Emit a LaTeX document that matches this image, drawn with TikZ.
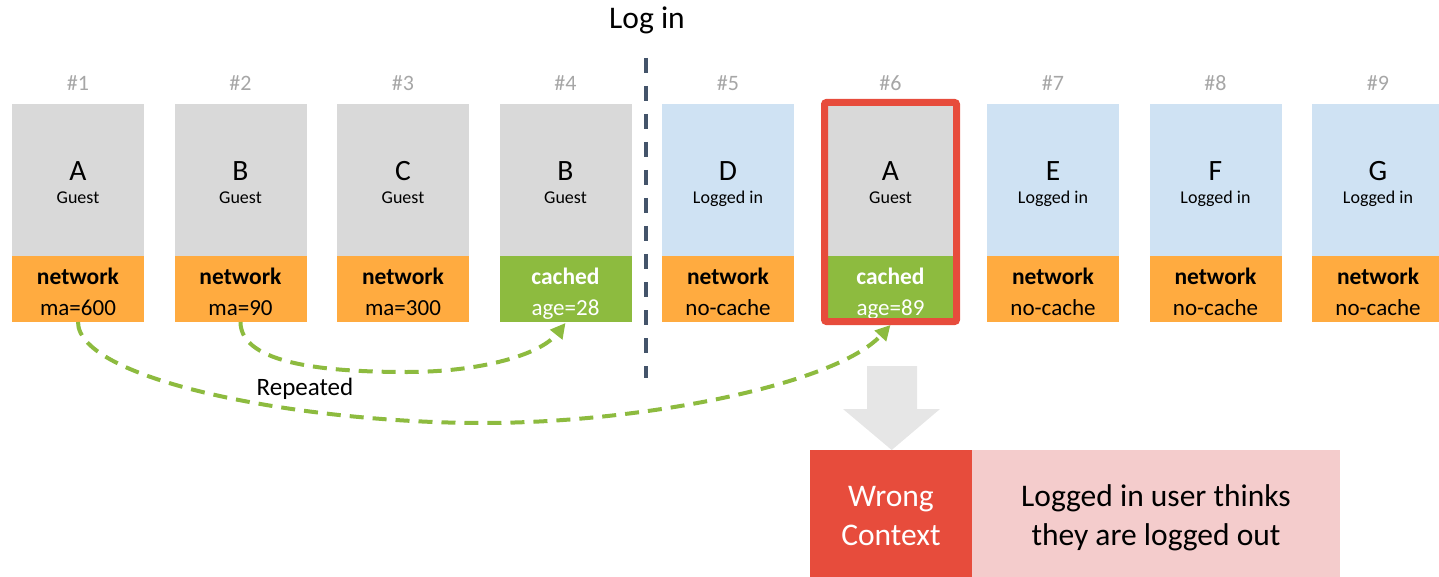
\documentclass[tikz,border=0pt]{standalone}
\usepackage{fontspec}
\setmainfont{Carlito}
\usetikzlibrary{arrows.meta}
\definecolor{cgray}{HTML}{D9D9D9}
\definecolor{cblue}{HTML}{CFE2F3}
\definecolor{corange}{HTML}{FFAB40}
\definecolor{cgreen}{HTML}{8DBB3F}
\definecolor{cred}{HTML}{E74C3C}
\definecolor{cpink}{HTML}{F4CCCC}
\definecolor{cnum}{HTML}{A6A6A6}
\definecolor{cline}{HTML}{44546A}
\definecolor{carrow}{HTML}{E6E6E6}
\tikzset{
  topbox/.style={minimum width=132pt, minimum height=152pt, inner sep=0pt, outer sep=0pt},
  botbox/.style={minimum width=132pt, minimum height=66pt, inner sep=0pt, outer sep=0pt},
  txt/.style={anchor=base, inner sep=0pt, outer sep=0pt},
  numlbl/.style={txt, text=cnum, font=\fontsize{22}{26}\selectfont},
  letter/.style={txt, font=\fontsize{29.5}{34}\selectfont},
  role/.style={txt, font=\fontsize{18}{21}\selectfont},
  stat/.style={txt, font=\bfseries\fontsize{23.5}{27}\selectfont},
  val/.style={txt, font=\fontsize{23}{27}\selectfont},
  big/.style={txt, font=\fontsize{31.5}{38}\selectfont},
  repeatarrow/.style={draw=cgreen, line width=4pt, dash pattern=on 14pt off 9pt,
     -{Triangle[length=15pt,width=15pt]}},
  divider/.style={draw=cline, line width=4pt, dash pattern=on 15pt off 13pt},
}
\begin{document}
\begin{tikzpicture}[x=1pt,y=-1pt]
\useasboundingbox (0,0) rectangle (1439,577);
\begin{scope}
\clip (0,0) rectangle (1439,577);
\foreach \i/\L/\R/\fc/\S/\V/\sc/\tc in {
 1/A/Guest/cgray/network/ma=600/corange/black,
 2/B/Guest/cgray/network/ma=90/corange/black,
 3/C/Guest/cgray/network/ma=300/corange/black,
 4/B/Guest/cgray/cached/age=28/cgreen/white,
 5/D/Logged in/cblue/network/no-cache/corange/black,
 6/A/Guest/cgray/cached/age=89/cgreen/white,
 7/E/Logged in/cblue/network/no-cache/corange/black,
 8/F/Logged in/cblue/network/no-cache/corange/black,
 9/G/Logged in/cblue/network/no-cache/corange/black}{
  \pgfmathsetmacro\cx{78+(\i-1)*162.5}
  \node[topbox, fill=\fc] (t\i) at (\cx,180) {};
  \node[botbox, fill=\sc] (b\i) at (\cx,289) {};
  \node[numlbl] (n\i) at (\cx,90.7) {\#\i};
  \node[letter] (l\i) at (\cx,180.7) {\L};
  \node[role] (r\i) at (\cx,204) {\R};
  \node[stat, text=\tc] (s\i) at (\cx,284) {\S};
  \node[val, text=\tc] (v\i) at (\cx,315) {\V};
}
\end{scope}

% log in divider
\node[big] (login) at (647,28.3) {Log in};
\coordinate (ls) at (646,58);
\coordinate (le) at (646,378);
\draw[divider] (ls) -- (le);

% repeated arrows
\coordinate (e4) at ([yshift=-1pt]b4.south);
\coordinate (e6) at ([yshift=-3pt]b6.south);
\draw[repeatarrow] (b2.south) .. controls +(0,43) and (330,372) .. (407,372)
   .. controls (480,372) and (540,355) .. (e4);
\draw[repeatarrow] (b1.south) .. controls +(0,58) and (300,423) .. (483,423)
   .. controls (640,423) and (835,385) .. (e6);
\node[txt, font=\fontsize{25}{30}\selectfont] (rep) at (305,395) {Repeated};

% red frame
\draw[cred, line width=7pt, rounded corners=2pt] ([yshift=1.5pt]t6.north west) rectangle ([yshift=0.5pt]b6.south east);

% result boxes
\node[minimum width=162pt, minimum height=127pt, inner sep=0pt, outer sep=0pt, fill=cred, anchor=north west] (w) at (810,450) {};
\node[minimum width=368pt, minimum height=127pt, inner sep=0pt, outer sep=0pt, fill=cpink, anchor=north west] (p) at (w.north east) {};
\node[big, text=white] (w1) at (891,506.7) {Wrong};
\node[big, text=white] (w2) at (891,545) {Context};
\node[big] (p1) at (1156,506.7) {Logged in user thinks};
\node[big] (p2) at (1156,545) {they are logged out};

% gray block arrow
\fill[carrow] (867,366) -- (917,366) -- (917,409) -- (940,409) -- (w.north -| 891.7,0) -- (843,409) -- (867,409) -- cycle;
\end{tikzpicture}
\end{document}
